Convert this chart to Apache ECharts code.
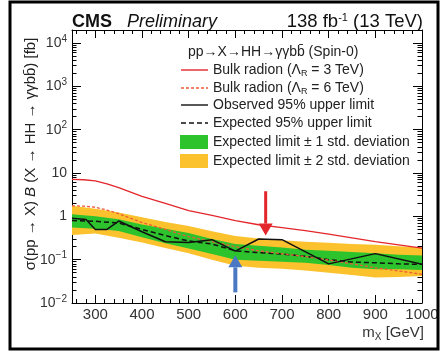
<!DOCTYPE html>
<html>
<head>
<meta charset="utf-8">
<script src="https://cdn.jsdelivr.net/npm/echarts@6/dist/echarts.min.js"></script>
<style>
  html, body { margin: 0; padding: 0; background: #fff; }
  #chart { width: 446px; height: 354px; }
</style>
</head>
<body>
<div id="chart"></div>
<script>
// Resonance mass points (GeV) for the expected limit and its bands
const limitMass = [250, 300, 350, 400, 450, 500, 550, 600, 650, 700, 750, 800, 850, 900, 950, 1000];
const expected  = [0.80, 0.77, 0.70, 0.50, 0.36, 0.27, 0.23, 0.16, 0.145, 0.135, 0.12, 0.10, 0.088, 0.085, 0.08, 0.078];
const band1Up   = [1.12, 1.00, 0.86, 0.65, 0.52, 0.41, 0.30, 0.23, 0.21, 0.19, 0.17, 0.16, 0.15, 0.14, 0.13, 0.125];
const band1Down = [0.55, 0.52, 0.46, 0.33, 0.24, 0.18, 0.135, 0.10, 0.095, 0.09, 0.085, 0.075, 0.065, 0.06, 0.06, 0.058];
const band2Up   = [1.75, 1.50, 1.22, 0.95, 0.74, 0.60, 0.45, 0.35, 0.31, 0.28, 0.26, 0.245, 0.23, 0.22, 0.205, 0.19];
const band2Down = [0.37, 0.40, 0.32, 0.25, 0.185, 0.14, 0.10, 0.072, 0.065, 0.062, 0.056, 0.05, 0.044, 0.039, 0.04, 0.042];

// Observed 95% CL upper limit
const obsMass  = [250, 280, 300, 325, 350, 400, 450, 500, 550, 600, 650, 700, 800, 900, 1000];
const observed = [0.90, 0.85, 0.50, 0.50, 0.78, 0.44, 0.26, 0.25, 0.29, 0.158, 0.30, 0.29, 0.08, 0.138, 0.078];

// Bulk radion predictions
const radionMass = [250, 275, 300, 325, 350, 400, 450, 500, 550, 600, 650, 700, 750, 800, 850, 900, 950, 1000];
const radion3TeV = [7.1, 7.0, 6.6, 5.6, 4.6, 2.9, 2.0, 1.35, 1.05, 0.80, 0.64, 0.55, 0.47, 0.39, 0.32, 0.26, 0.22, 0.185];
const radion6TeV = [1.75, 1.72, 1.62, 1.40, 1.15, 0.72, 0.50, 0.34, 0.26, 0.20, 0.16, 0.137, 0.118, 0.098, 0.08, 0.065, 0.055, 0.046];

// Annotation arrows: mass, start value, tip value
const arrowMass  = [665, 600];
const arrowFrom  = [3.8, 0.0176];
const arrowTo    = [0.36, 0.126];
const arrowColor = ['#e3262b', '#4a78c2'];

// Axis ticks
const xTickLabels = [300, 400, 500, 600, 700, 800, 900, 1000];
const yTickLabels = [0.01, 0.1, 1, 10, 100, 1000, 10000];
const xMin = 250, xMax = 1000, yMin = 0.01, yMax = 20000;

const xMinorTicks = [];
for (let m = 260; m < xMax; m += 20) if (m % 100 !== 0) xMinorTicks.push(m);
const yMinorTicks = [];
for (let k = -2; k <= 4; k++) {
  for (let d = 2; d <= 9; d++) {
    const v = Number((d * Math.pow(10, k)).toPrecision(3));
    if (v < yMax) yMinorTicks.push(v);
  }
}

const FONT = '"Liberation Sans", Arial, Helvetica, sans-serif';
const GREEN = '#2cc32c';
const YELLOW = '#fcc22d';
const RED = '#e3262b';
const RED_DASH = '#ee5a3a';
const INK = '#222';

const gridRect = { left: 72, right: 24, top: 30, bottom: 51 };

function pairs(xs, ys) { return xs.map((x, i) => [x, ys[i]]); }

function bandSeries(name, color, up, down) {
  return {
    name: name,
    type: 'custom',
    coordinateSystem: 'cartesian2d',
    xAxisIndex: 0, yAxisIndex: 0,
    itemStyle: { color: color },
    data: limitMass.map((m, i) => [m, down[i], up[i]]),
    encode: { x: 0, y: [1, 2] },
    silent: true,
    renderItem: function (params, api) {
      if (params.dataIndex !== 0) return null;
      const pts = [];
      for (let i = 0; i < limitMass.length; i++) pts.push(api.coord([limitMass[i], up[i]]));
      for (let i = limitMass.length - 1; i >= 0; i--) pts.push(api.coord([limitMass[i], down[i]]));
      return { type: 'polygon', shape: { points: pts }, style: { fill: color } };
    }
  };
}

function lineSeries(name, xs, ys, color, width, dash, z) {
  return {
    name: name,
    type: 'line',
    xAxisIndex: 0, yAxisIndex: 0,
    data: pairs(xs, ys),
    symbol: 'none',
    z: z,
    itemStyle: { color: color },
    lineStyle: { color: color, width: width, type: dash },
    silent: true
  };
}

const arrowSeries = {
  type: 'custom',
  coordinateSystem: 'cartesian2d',
  xAxisIndex: 0, yAxisIndex: 0,
  z: 10,
  silent: true,
  data: arrowMass.map((m, i) => [m, arrowFrom[i], arrowTo[i]]),
  encode: { x: 0, y: [1, 2] },
  renderItem: function (params, api) {
    const i = params.dataIndex;
    const p0 = api.coord([arrowMass[i], arrowFrom[i]]);
    const p1 = api.coord([arrowMass[i], arrowTo[i]]);
    const dir = p1[1] > p0[1] ? 1 : -1;
    const headLen = 12, headHalf = 7;
    const color = arrowColor[i];
    const shaftW = i === 0 ? 3 : 4;
    return {
      type: 'group',
      children: [
        { type: 'line', shape: { x1: p0[0], y1: p0[1], x2: p1[0], y2: p1[1] - dir * headLen },
          style: { stroke: color, lineWidth: shaftW } },
        { type: 'polygon', shape: { points: [
            [p1[0], p1[1]],
            [p1[0] - headHalf, p1[1] - dir * headLen],
            [p1[0] + headHalf, p1[1] - dir * headLen]
          ] }, style: { fill: color } }
      ]
    };
  }
};

function yLabel(v) {
  const k = Math.round(Math.log10(v));
  if (k === 0) return '1';
  if (k === 1) return '10';
  return '10{sup|' + (k < 0 ? '\u2212' + (-k) : k) + '}';
}

function xAxisDef(grid, pos, ticks, len, labels, line) {
  return {
    gridIndex: grid, type: 'value', position: pos, min: xMin, max: xMax,
    axisLine: { show: line, lineStyle: { color: '#000', width: 1 } },
    axisTick: { show: true, inside: true, length: len, customValues: ticks, lineStyle: { color: '#000', width: 1 } },
    axisLabel: labels ? {
      show: true, customValues: xTickLabels, fontSize: 15, color: '#333', fontFamily: FONT, margin: 4,
      formatter: v => String(v)
    } : { show: false },
    splitLine: { show: false }
  };
}

function yAxisDef(grid, pos, ticks, len, labels, line) {
  return {
    gridIndex: grid, type: 'log', logBase: 10, position: pos, min: yMin, max: yMax,
    axisLine: { show: line, lineStyle: { color: '#000', width: 1 } },
    axisTick: { show: true, inside: true, length: len, customValues: ticks, lineStyle: { color: '#000', width: 1 } },
    axisLabel: labels ? {
      show: true, customValues: yTickLabels, fontSize: 14, color: '#333', fontFamily: FONT, margin: 5,
      formatter: yLabel,
      rich: { sup: { fontSize: 10, color: '#333', fontFamily: FONT, padding: [0, 0, 8, 0] } }
    } : { show: false },
    splitLine: { show: false }
  };
}

// Legend entries drawn as graphics: symbol kind, colour, label, row centre
const legendRows = [
  { kind: 'line', color: RED, dash: null, text: 'Bulk radion (\u039B{sub|R} = 3 TeV)', y: 70 },
  { kind: 'line', color: RED_DASH, dash: [3, 2], text: 'Bulk radion (\u039B{sub|R} = 6 TeV)', y: 88 },
  { kind: 'line', color: '#111', dash: null, text: 'Observed 95% upper limit', y: 105 },
  { kind: 'line', color: '#111', dash: [5, 3], text: 'Expected 95% upper limit', y: 123 },
  { kind: 'box', color: GREEN, text: 'Expected limit \u00B1 1 std. deviation', y: 142 },
  { kind: 'box', color: YELLOW, text: 'Expected limit \u00B1 2 std. deviation', y: 161 }
];
const legendGraphics = [];
legendRows.forEach(r => {
  if (r.kind === 'line') {
    legendGraphics.push({ type: 'line', shape: { x1: 181, y1: r.y, x2: 208, y2: r.y },
      style: { stroke: r.color, lineWidth: 1.4, lineDash: r.dash } });
  } else {
    legendGraphics.push({ type: 'rect', shape: { x: 180, y: r.y - 7, width: 28, height: 14 },
      style: { fill: r.color } });
  }
  legendGraphics.push({ type: 'text', x: 213, y: r.y, style: {
    text: r.text, font: '14px ' + FONT, fill: INK, verticalAlign: 'middle',
    rich: { sub: { fontSize: 9, fontFamily: FONT, fill: INK, padding: [7, 0, 0, 0] } } } });
});

const chart = echarts.init(document.getElementById('chart'), null, { renderer: 'canvas' });
chart.setOption({
  animation: false,
  backgroundColor: '#fff',
  grid: [
    Object.assign({}, gridRect),
    Object.assign({}, gridRect)
  ],
  xAxis: [
    xAxisDef(0, 'bottom', xTickLabels, 8, true, true),
    xAxisDef(0, 'top', xTickLabels, 8, false, true),
    xAxisDef(1, 'bottom', xMinorTicks, 4, false, false),
    xAxisDef(1, 'top', xMinorTicks, 4, false, false)
  ],
  yAxis: [
    yAxisDef(0, 'left', yTickLabels, 9, true, true),
    yAxisDef(0, 'right', yTickLabels, 9, false, true),
    yAxisDef(1, 'left', yMinorTicks, 4.5, false, false),
    yAxisDef(1, 'right', yMinorTicks, 4.5, false, false)
  ],
  graphic: [
    { type: 'rect', shape: { x: 10, y: 2, width: 428, height: 347 },
      style: { fill: 'none', stroke: '#000', lineWidth: 3 }, z: 100 },
    { type: 'text', x: 72, y: 22, style: { text: 'CMS', font: 'bold 18px ' + FONT, fill: '#111', verticalAlign: 'middle' } },
    { type: 'text', x: 127, y: 22, style: { text: 'Preliminary', font: 'italic 18px ' + FONT, fill: '#111', verticalAlign: 'middle' } },
    { type: 'text', x: 423, y: 22, style: {
        text: '138 fb{sup|-1} (13 TeV)', font: '18.5px ' + FONT, fill: '#111', align: 'right', verticalAlign: 'middle',
        rich: { sup: { fontSize: 11, fontFamily: FONT, fill: '#111', padding: [0, 0, 9, 0] } } } },
    { type: 'text', x: 188, y: 52, style: {
        text: 'pp\u2192X\u2192HH\u2192\u03B3\u03B3bb\u0304 (Spin-0)', font: '14px ' + FONT, fill: INK, verticalAlign: 'middle' } },
    { type: 'text', x: 31, y: 154, rotation: Math.PI / 2, style: {
        text: '\u03C3(pp \u2192 X) {i|B} (X \u2192 HH \u2192 \u03B3\u03B3bb\u0304) [fb]', font: '15px ' + FONT, fill: INK,
        align: 'center', verticalAlign: 'middle',
        rich: { i: { fontStyle: 'italic', fontSize: 15, fontFamily: FONT, fill: INK } } } },
    { type: 'text', x: 424, y: 333, style: {
        text: 'm{sub|X} [GeV]', font: '15px ' + FONT, fill: '#333', align: 'right', verticalAlign: 'middle',
        rich: { sub: { fontSize: 10, fontFamily: FONT, fill: '#333', padding: [8, 0, 0, 0] } } } }
  ].concat(legendGraphics),
  series: [
    bandSeries('band2', YELLOW, band2Up, band2Down),
    bandSeries('band1', GREEN, band1Up, band1Down),
    lineSeries('expected', limitMass, expected, '#111', 1.5, [5, 3], 3),
    lineSeries('radion6', radionMass, radion6TeV, RED_DASH, 1.3, [3, 2], 4),
    lineSeries('radion3', radionMass, radion3TeV, RED, 1.3, 'solid', 5),
    lineSeries('observed', obsMass, observed, '#111', 1.5, 'solid', 6),
    arrowSeries
  ]
});
</script>
</body>
</html>
